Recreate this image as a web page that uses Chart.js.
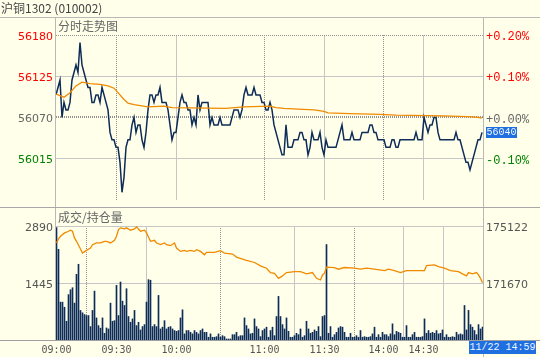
<!DOCTYPE html>
<html><head><meta charset="utf-8">
<script src="https://cdn.jsdelivr.net/npm/chart.js@4.4.0/dist/chart.umd.min.js"></script>
<style>
html,body{margin:0;padding:0;}
body{width:540px;height:357px;background:#FFFFEA;position:relative;overflow:hidden;font-family:"Noto Sans CJK SC",sans-serif;}
.abs{position:absolute;}
.ln{position:absolute;background:#b9b9b9;}
canvas{position:absolute;left:0;}
.txt{position:absolute;font-size:12px;line-height:14px;white-space:nowrap;}
.box{position:absolute;background:#1f6fe0;color:#eef6ff;font-family:"Liberation Mono",monospace;font-size:10px;line-height:13px;text-align:center;}
</style></head><body>
<div class="ln" style="left:0;top:17px;width:540px;height:1px;"></div>
<div class="ln" style="left:55px;top:17px;width:1px;height:323px;"></div>
<div class="ln" style="left:483px;top:17px;width:1px;height:340px;"></div>
<div class="ln" style="left:0;top:207px;width:540px;height:1px;background:#a8a8a8;"></div>
<div class="ln" style="left:0;top:340px;width:540px;height:1px;background:#a0a0a0;"></div>
<canvas id="c1" width="540" height="210" style="top:0;"></canvas>
<canvas id="c2" width="540" height="149" style="top:208px;"></canvas>
<div class="txt" style="left:1px;top:1px;color:#444;">沪铜1302 (010002)</div>
<div class="txt" style="left:58px;top:19px;color:#666;">分时走势图</div>
<div class="txt" style="left:58px;top:210px;color:#666;">成交/持仓量</div>
<div class="box" style="left:469px;top:341px;width:67px;height:13px;">11/22 14:59</div>
<script>
// ---- data ----
const PREV_SETTLE = 56070;
const LAST_LABEL = "56040";
const PRICE = [
56100,56110,56120,56070,56090,56080,56080,56090,56120,56130,
56140,56130,56170,56140,56130,56120,56110,56110,56090,56090,
56100,56100,56090,56110,56100,56090,56080,56050,56040,56040,
56030,56030,56010,55970,55990,56030,56040,56040,56060,56070,
56050,56060,56060,56040,56030,56050,56080,56100,56100,56090,
56100,56100,56110,56090,56090,56090,56080,56060,56040,56050,
56050,56070,56090,56100,56090,56090,56080,56080,56060,56070,
56060,56100,56080,56090,56090,56090,56090,56060,56070,56060,
56060,56060,56070,56060,56060,56060,56060,56060,56070,56080,
56080,56080,56070,56080,56100,56110,56100,56100,56100,56110,
56100,56100,56100,56090,56090,56080,56080,56090,56080,56060,
56050,56040,56030,56020,56020,56060,56030,56030,56030,56040,
56040,56040,56050,56050,56040,56040,56020,56030,56050,56040,
56040,56040,56050,56030,56020,56040,56030,56030,56030,56030,
56030,56040,56050,56060,56040,56040,56040,56040,56050,56040,
56040,56040,56040,56050,56050,56050,56050,56060,56060,56050,
56050,56040,56040,56040,56040,56030,56030,56030,56040,56040,
56030,56030,56040,56040,56040,56040,56040,56040,56040,56040,
56050,56040,56040,56040,56070,56060,56050,56060,56060,56070,
56070,56050,56040,56040,56040,56040,56040,56040,56040,56040,
56050,56040,56040,56030,56020,56010,56010,56000,56010,56020,
56030,56040,56040,56050];
const AVG_X = [0,4,7,10,13,17,22,26,29,31,34,36,39,46,54,58,85,94,107,110,114,121,129,134,136,147,162,170,194,206,211,213];
const AVG_Y = [56101,56097,56103,56112,56117,56115,56114,56112,56109,56103,56094,56089,56087,56084,56085,56083,56082,56084,56085,56083,56082,56081,56080,56078,56076,56075,56074,56073,56072,56071,56070,56069];
const VOLUME = [
2850,2300,960,960,830,475,1150,1275,1325,935,
1665,1920,750,690,645,620,620,340,750,1240,
560,365,300,560,170,305,280,935,475,490,
1385,620,1470,985,875,1300,595,450,535,750,
365,450,255,340,390,960,1530,1515,340,390,
340,1130,280,325,490,280,325,340,280,240,
220,240,560,765,155,240,240,195,155,240,
195,155,240,280,195,195,70,155,70,70,
85,155,70,110,85,25,25,25,135,135,
195,85,110,110,560,365,280,155,170,535,
340,280,85,240,280,325,70,240,325,110,
595,1105,595,390,280,560,220,70,70,110,
170,135,280,70,110,475,280,170,195,255,
220,340,85,595,620,2420,170,340,70,135,
195,305,340,325,195,70,70,170,70,70,
110,70,240,70,85,70,70,85,155,325,
70,135,70,195,135,135,85,155,410,135,
220,195,170,70,70,365,70,70,135,195,
70,70,70,85,535,170,240,170,195,170,
240,155,170,255,70,135,70,70,85,70,
195,135,155,135,875,255,750,390,325,240,
135,390,280,325];
const OI_X = [0,1,2,4,5,7,8,9,10,12,13,15,17,18,20,22,24,25,27,29,30,31,32,34,35,37,39,40,42,44,45,47,49,50,52,54,55,57,59,60,62,64,65,67,69,70,72,74,75,79,82,84,88,90,93,95,99,102,105,107,109,111,113,115,119,122,125,128,130,132,133,134,135,139,141,144,149,152,155,159,164,166,169,172,175,184,185,189,191,194,197,201,203,205,206,208,210,211,212,213];
const OI_Y = [174094,174338,174501,174705,174745,174867,174806,174399,174195,173727,173482,173645,173788,173992,174094,174094,174195,174195,174094,174256,174501,174908,175010,174949,175010,174867,174949,175071,174806,174867,174705,174195,174256,174094,173992,174094,173992,173931,174094,173788,173584,173645,173584,173645,173584,173686,173584,173381,173523,173523,173625,173482,173422,173238,173116,173034,172912,172709,172566,172301,172261,171955,172098,172301,172362,172362,172220,172301,171955,171853,172159,172261,172627,172607,172505,172607,172566,172505,172566,172505,172423,172505,172423,172301,172423,172423,172729,172770,172668,172566,172423,172362,172220,172098,172301,172220,172301,172159,171955,171690];
const TIME_POS = [0,30,60,104,134,163.5,183.5];
const TIME_LABELS = ["09:00","09:30","10:00","11:00","11:30","14:00","14:30"];
const TIME_STYLE = ["none","dot","solid","dot","solid","dot","solid"];
const X_MAX = 213.5;
const PRICE_MIN = 55960, PRICE_MAX = 56180;
const PRICE_TICKS = [56015,56070,56125,56180];
const PRICE_STYLE = ["solid","mid","solid","dot"];
const VOL_MAX = 2890;
const VOL_TICKS = [1445,2890];
const OI_MIN = 168218, OI_MAX = 175122;
const OI_TICKS = [171670,175122];

// ---- styles ----
const NAVY = '#0d2c58', ORANGE = '#f08a00';
const SOLID_C = '#c6c6c6', DOT_C = '#909090';
const BAR_SHIFT = 0.25; // half-pixel shift of the bottom panel so 1px bars are crisp
function styleColor(s){ return s==='none' ? 'rgba(0,0,0,0)' : (s==='solid' ? SOLID_C : DOT_C); }
function styleDash(s){ return (s==='dot'||s==='mid') ? [1,1] : []; }
function priceColor(v){ return v>PREV_SETTLE ? '#ff0000' : (v<PREV_SETTLE ? '#008000' : '#666666'); }
const xGridColor = c => c.tick ? styleColor(TIME_STYLE[TIME_POS.indexOf(c.tick.value)]) : SOLID_C;
const xGridDash = c => c.tick ? styleDash(TIME_STYLE[TIME_POS.indexOf(c.tick.value)]) : [];

const lastBox = {
  id:'lastBox',
  afterDraw(chart){
    const ctx = chart.ctx;
    const y = chart.scales.y.getPixelForValue(PRICE[PRICE.length-1]);
    ctx.save();
    ctx.fillStyle = '#1f6fe0';
    ctx.fillRect(486, Math.round(y-5.5), 31, 11);
    ctx.fillStyle = '#eef6ff';
    ctx.font = '10px "Liberation Mono", monospace';
    ctx.textAlign = 'center'; ctx.textBaseline = 'middle';
    ctx.fillText(LAST_LABEL, 501.5, Math.round(y-5.5)+5.5);
    ctx.restore();
  }
};

new Chart(document.getElementById('c1'), {
  type:'line',
  data:{datasets:[
    {data: PRICE.map((v,i)=>({x:i,y:v})), borderColor:NAVY, borderWidth:1.5, pointRadius:0, tension:0, yAxisID:'y', order:1},
    {data: AVG_X.map((x,k)=>({x:x,y:AVG_Y[k]})), borderColor:ORANGE, borderWidth:1.3, pointRadius:0, tension:0, yAxisID:'y', order:0}
  ]},
  options:{
    responsive:false, animation:false, events:[],
    layout:{padding:{top:35,bottom:2,left:0,right:0}},
    plugins:{legend:{display:false}, tooltip:{enabled:false}},
    scales:{
      x:{type:'linear', min:0, max:X_MAX, offset:false,
         afterBuildTicks:s=>{s.ticks = TIME_POS.map(v=>({value:v}));},
         afterFit:s=>{s.height=0;},
         ticks:{display:false},
         grid:{drawTicks:false, color:xGridColor, lineWidth:1},
         border:{display:false, dash:xGridDash}},
      y:{position:'left', min:PRICE_MIN, max:PRICE_MAX,
         afterBuildTicks:s=>{s.ticks = PRICE_TICKS.map(v=>({value:v}));},
         afterFit:s=>{s.width=56;},
         ticks:{padding:3, labelOffset:2, font:{family:'DejaVu Sans', size:11}, color:c=>priceColor(c.tick.value), callback:v=>String(v)},
         grid:{drawTicks:false, color:c=>c.tick?styleColor(PRICE_STYLE[PRICE_TICKS.indexOf(c.tick.value)]):SOLID_C,
               lineWidth:c=>c.tick && PRICE_STYLE[PRICE_TICKS.indexOf(c.tick.value)]==='mid' ? 2 : 1},
         border:{display:false, dash:c=>c.tick?styleDash(PRICE_STYLE[PRICE_TICKS.indexOf(c.tick.value)]):[]}},
      y2:{position:'right', min:PRICE_MIN, max:PRICE_MAX,
         afterBuildTicks:s=>{s.ticks = PRICE_TICKS.map(v=>({value:v}));},
         afterFit:s=>{s.width=57;},
         ticks:{padding:3, labelOffset:2, font:{family:'Liberation Mono', size:12}, color:c=>priceColor(c.tick.value),
                callback:v=>{const p=(v-PREV_SETTLE)/PREV_SETTLE*100; return (p>=0?'+':'-')+Math.abs(p).toFixed(2)+'%';}},
         grid:{display:false, drawTicks:false}, border:{display:false}}
    }
  },
  plugins:[lastBox]
});

new Chart(document.getElementById('c2'), {
  type:'bar',
  data:{datasets:[
    {type:'bar', data: VOLUME.map((v,i)=>({x:i,y:v})), backgroundColor:NAVY, barThickness:1, yAxisID:'yv', order:2},
    {type:'line', data: OI_X.map((x,k)=>({x:x,y:OI_Y[k]})), borderColor:ORANGE, borderWidth:1.3, pointRadius:0, tension:0, yAxisID:'yo', order:1}
  ]},
  options:{
    responsive:false, animation:false, events:[],
    layout:{padding:{top:18,bottom:0,left:0,right:0}},
    plugins:{legend:{display:false}, tooltip:{enabled:false}},
    scales:{
      x:{type:'linear', min:-BAR_SHIFT, max:X_MAX-BAR_SHIFT, offset:false,
         afterBuildTicks:s=>{s.ticks = TIME_POS.map(v=>({value:v}));},
         afterFit:s=>{s.height=17;},
         ticks:{autoSkip:false, maxRotation:0, padding:4, font:{family:'DejaVu Sans Mono', size:10}, color:'#555',
                callback:(v,i)=>TIME_LABELS[i]},
         grid:{drawTicks:false, color:xGridColor, lineWidth:1},
         border:{display:false, dash:xGridDash}},
      yv:{position:'left', min:0, max:VOL_MAX,
         afterBuildTicks:s=>{s.ticks = VOL_TICKS.map(v=>({value:v}));},
         afterFit:s=>{s.width=56;},
         ticks:{padding:3, labelOffset:2, font:{family:'DejaVu Sans', size:11}, color:'#555', callback:v=>String(v)},
         grid:{drawTicks:false, color:SOLID_C, lineWidth:1},
         border:{display:false}},
      yo:{position:'right', min:OI_MIN, max:OI_MAX,
         afterBuildTicks:s=>{s.ticks = OI_TICKS.map(v=>({value:v}));},
         afterFit:s=>{s.width=57;},
         ticks:{padding:3, labelOffset:2, font:{family:'DejaVu Sans', size:11}, color:'#555', callback:v=>String(v)},
         grid:{display:false, drawTicks:false}, border:{display:false}}
    }
  }
});
</script>
</body></html>
